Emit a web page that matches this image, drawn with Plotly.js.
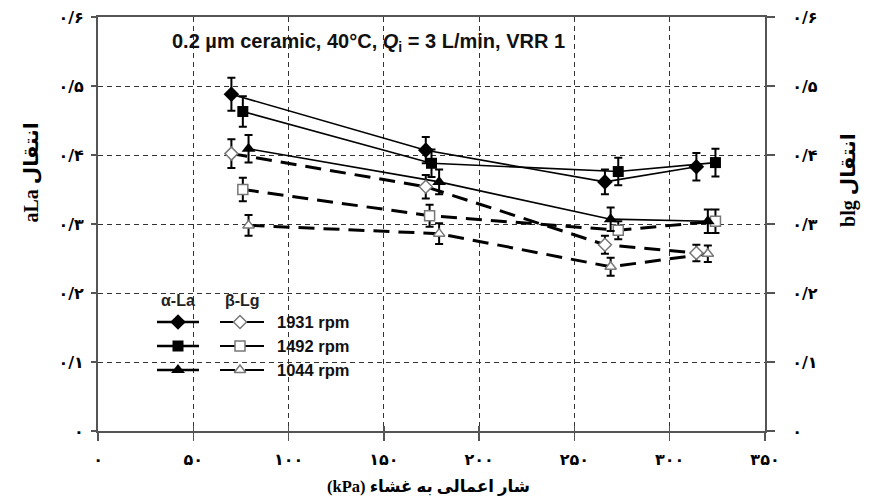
<!DOCTYPE html>
<html>
<head>
<meta charset="utf-8">
<script src="https://cdn.plot.ly/plotly-3.0.1.min.js"></script>
<style>
  html, body { margin: 0; padding: 0; background: #fff; }
  #chart { width: 870px; height: 503px; }
</style>
</head>
<body>
<div id="chart"></div>
<script>
// Transmission vs. transmembrane pressure (kPa)
// α-La (filled markers, solid lines) and β-Lg (open markers, dashed lines)

const rpmLabels = ['1931 rpm', '1492 rpm', '1044 rpm'];

// α-La
const aLa1931X = [70, 172, 266, 314];
const aLa1931Y = [0.488, 0.407, 0.361, 0.383];
const aLa1931E = [0.024, 0.019, 0.018, 0.020];

const aLa1492X = [76, 175, 273, 324];
const aLa1492Y = [0.463, 0.388, 0.376, 0.389];
const aLa1492E = [0.022, 0.020, 0.020, 0.020];

const aLa1044X = [79, 179, 269, 320];
const aLa1044Y = [0.409, 0.361, 0.307, 0.304];
const aLa1044E = [0.020, 0.018, 0.017, 0.017];

// β-Lg
const bLg1931X = [70, 172, 266, 314];
const bLg1931Y = [0.402, 0.354, 0.270, 0.258];
const bLg1931E = [0.021, 0.017, 0.013, 0.012];

const bLg1492X = [76, 174, 273, 324];
const bLg1492Y = [0.350, 0.312, 0.291, 0.304];
const bLg1492E = [0.017, 0.016, 0.013, 0.017];

const bLg1044X = [79, 179, 269, 320];
const bLg1044Y = [0.298, 0.286, 0.238, 0.257];
const bLg1044E = [0.015, 0.015, 0.013, 0.012];

// Axis ticks (Persian digits)
const xTickVals = [0, 50, 100, 150, 200, 250, 300, 350];
const xTickText = ['۰', '۵۰', '۱۰۰', '۱۵۰', '۲۰۰', '۲۵۰', '۳۰۰', '۳۵۰'];
const yTickVals = [0, 0.1, 0.2, 0.3, 0.4, 0.5, 0.6];
const yTickText = ['۰', '۰/۱', '۰/۲', '۰/۳', '۰/۴', '۰/۵', '۰/۶'];

const RLE = '\u202B', PDF = '\u202C';
const symbols = ['diamond', 'square', 'triangle-up'];
const OPEN_EDGE = '#777';

function errBar(arr) {
  return { type: 'data', array: arr, visible: true, color: '#000', thickness: 2, width: 4 };
}

// connecting line (separate so that error bars stay solid)
function lineTrace(x, y, width, dash) {
  return {
    x: x, y: y, type: 'scatter', mode: 'lines',
    line: { color: '#000', width: width, dash: dash },
    showlegend: false, hoverinfo: 'skip'
  };
}
function pointTrace(x, y, e, sym, size, filled) {
  return {
    x: x, y: y, error_y: errBar(e), type: 'scatter', mode: 'markers',
    marker: filled
      ? { symbol: sym, size: size, color: '#000', line: { color: '#000', width: 0 } }
      : { symbol: sym, size: size, color: '#fff', line: { color: OPEN_EDGE, width: 1.5 } },
    showlegend: false, hoverinfo: 'x+y'
  };
}

const BETA_DASH = '16px,9px';
const traces = [
  lineTrace(bLg1931X, bLg1931Y, 3, BETA_DASH),
  lineTrace(bLg1492X, bLg1492Y, 3, BETA_DASH),
  lineTrace(bLg1044X, bLg1044Y, 3, BETA_DASH),
  lineTrace(aLa1931X, aLa1931Y, 1.6, 'solid'),
  lineTrace(aLa1492X, aLa1492Y, 1.6, 'solid'),
  lineTrace(aLa1044X, aLa1044Y, 1.6, 'solid'),
  pointTrace(bLg1931X, bLg1931Y, bLg1931E, symbols[0], 10, false),
  pointTrace(bLg1492X, bLg1492Y, bLg1492E, symbols[1], 10, false),
  pointTrace(bLg1044X, bLg1044Y, bLg1044E, symbols[2], 10, false),
  pointTrace(aLa1931X, aLa1931Y, aLa1931E, symbols[0], 12, true),
  pointTrace(aLa1492X, aLa1492Y, aLa1492E, symbols[1], 11, true),
  pointTrace(aLa1044X, aLa1044Y, aLa1044E, symbols[2], 12, true)
];

// Custom two-column key drawn on a pixel-scaled overlay axis
const keyRowsY = [322, 346, 370];
const keyFont = { family: 'Liberation Sans, Arial, sans-serif', size: 16.5, color: '#111' };
const annotations = [];
keyRowsY.forEach((ry, i) => {
  traces.push({
    x: [157, 199], y: [ry, ry], xaxis: 'x3', yaxis: 'y3', type: 'scatter', mode: 'lines',
    line: { color: '#000', width: 2.5 }, showlegend: false, hoverinfo: 'skip'
  });
  traces.push({
    x: [178], y: [ry], xaxis: 'x3', yaxis: 'y3', type: 'scatter', mode: 'markers',
    marker: { symbol: symbols[i], size: i === 1 ? 11 : 12, color: '#000' },
    showlegend: false, hoverinfo: 'skip'
  });
  traces.push({
    x: [220, 235, null, 245, 264], y: [ry, ry, null, ry, ry], xaxis: 'x3', yaxis: 'y3',
    type: 'scatter', mode: 'lines', line: { color: '#000', width: 2 },
    showlegend: false, hoverinfo: 'skip'
  });
  traces.push({
    x: [240], y: [ry], xaxis: 'x3', yaxis: 'y3', type: 'scatter', mode: 'markers',
    marker: { symbol: symbols[i], size: 10, color: '#fff', line: { color: OPEN_EDGE, width: 1.5 } },
    showlegend: false, hoverinfo: 'skip'
  });
  annotations.push({
    xref: 'x3', yref: 'y3', x: 275, y: ry, xanchor: 'left', yanchor: 'middle',
    text: '<b>' + rpmLabels[i] + '</b>', showarrow: false, font: keyFont
  });
});
const headFont = { family: 'Liberation Sans, Arial, sans-serif', size: 16, color: '#222' };
const titleFont = { family: 'Liberation Serif, DejaVu Sans, serif', size: 20, color: '#000' };
annotations.push(
  { xref: 'x3', yref: 'y3', x: 178, y: 300, text: '<b>α-La</b>', showarrow: false, font: headFont },
  { xref: 'x3', yref: 'y3', x: 242, y: 300, text: '<b>β-Lg</b>', showarrow: false, font: headFont },
  { xref: 'x3', yref: 'y3', x: 368, y: 42,
    text: '<b>0.2 µm ceramic, 40°C, <i>Q</i><sub>i</sub> = 3 L/min, VRR 1</b>', showarrow: false,
    font: { family: 'Liberation Sans, Arial, sans-serif', size: 20, color: '#111' } },
  // axis titles
  { xref: 'paper', yref: 'paper', x: -0.1, y: 0.625, xanchor: 'center', yanchor: 'middle',
    textangle: -90, showarrow: false,
    text: '<b>' + RLE + 'انتقال aLa' + PDF + '</b>', font: titleFont },
  { xref: 'paper', yref: 'paper', x: 1.125, y: 0.605, xanchor: 'center', yanchor: 'middle',
    textangle: -90, showarrow: false,
    text: '<b>' + RLE + 'انتقال blg' + PDF + '</b>', font: titleFont },
  { xref: 'paper', yref: 'paper', x: 0.495, y: -0.135, yanchor: 'middle', showarrow: false,
    text: '<b>' + RLE + 'شار اعمالی به غشاء (kPa)' + PDF + '</b>',
    font: { family: 'Liberation Serif, DejaVu Sans, serif', size: 16.5, color: '#000' } }
);

const tickFont = { family: 'DejaVu Sans, sans-serif', size: 16, color: '#000', weight: 'bold' };
const gridStyle = { showgrid: true, gridcolor: '#333', gridwidth: 1, griddash: '5px,4px' };

const layout = {
  width: 870, height: 503,
  margin: { l: 98, r: 105, t: 17, b: 72, pad: 0 },
  paper_bgcolor: '#fff', plot_bgcolor: '#fff',
  showlegend: false,
  xaxis: Object.assign({
    range: [0, 350], tickvals: xTickVals, ticktext: xTickText, tickfont: tickFont,
    ticks: 'outside', ticklen: 8, tickwidth: 1.5, tickcolor: '#555',
    showline: true, linecolor: '#555', linewidth: 2, mirror: true,
    zeroline: false, ticklabelstandoff: 5, fixedrange: true
  }, gridStyle),
  xaxis2: {
    overlaying: 'x', matches: 'x', range: [0, 350], tickvals: xTickVals,
    ticks: 'inside', ticklen: 5, tickwidth: 1.5, tickcolor: '#555',
    showticklabels: false, showgrid: false, showline: false, zeroline: false
  },
  yaxis: Object.assign({
    range: [0, 0.6], tickvals: yTickVals, ticktext: yTickText, tickfont: tickFont,
    ticks: 'outside', ticklen: 5, tickwidth: 1.5, tickcolor: '#555',
    showline: true, linecolor: '#555', linewidth: 2,
    zeroline: false, ticklabelstandoff: 4, fixedrange: true
  }, gridStyle),
  yaxis2: {
    overlaying: 'y', matches: 'y', side: 'right', anchor: 'x',
    range: [0, 0.6], tickvals: yTickVals, ticktext: yTickText, tickfont: tickFont,
    ticks: 'outside', ticklen: 8, tickwidth: 1.5, tickcolor: '#555',
    showline: true, linecolor: '#555', linewidth: 2,
    showgrid: false, zeroline: false, ticklabelstandoff: 14
  },
  xaxis3: { overlaying: 'x', anchor: 'y3', range: [98, 765], visible: false, fixedrange: true },
  yaxis3: { overlaying: 'y', anchor: 'x3', range: [431, 17], visible: false, fixedrange: true },
  annotations: annotations
};

// Invisible helper traces so the secondary x/y axes are drawn
traces.push({ x: [0], y: [0], xaxis: 'x2', yaxis: 'y', type: 'scatter', mode: 'markers',
  marker: { opacity: 0 }, showlegend: false, hoverinfo: 'skip' });
traces.push({ x: [0], y: [0], xaxis: 'x', yaxis: 'y2', type: 'scatter', mode: 'markers',
  marker: { opacity: 0 }, showlegend: false, hoverinfo: 'skip' });

Plotly.newPlot('chart', traces, layout, { displayModeBar: false, staticPlot: true });
</script>
</body>
</html>
